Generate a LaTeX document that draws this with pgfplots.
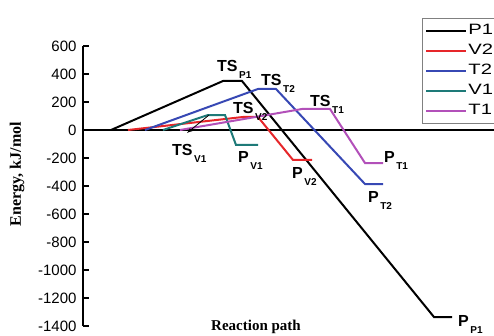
\documentclass[border=0pt]{standalone}
\usepackage{fontspec}
\setmainfont{Liberation Sans}
\newfontfamily\seriffont{Liberation Serif}
\newfontfamily\legfont[FakeStretch=1.35]{Liberation Sans}
\usepackage{pgfplots}
\pgfplotsset{compat=1.18}
\definecolor{cred}{RGB}{230,38,42}
\definecolor{cblue}{RGB}{55,72,180}
\definecolor{cteal}{RGB}{30,122,120}
\definecolor{cmag}{RGB}{178,80,185}
\newcommand{\lbl}[2]{{\fontsize{16bp}{16bp}\selectfont\textbf{#1}}\hspace{1.5bp}\raisebox{-7bp}{\fontsize{10bp}{10bp}\selectfont\textbf{#2}}}
\begin{document}
\begin{tikzpicture}
\path[use as bounding box] (-83bp,-10bp) rectangle (411bp,326bp);
\begin{axis}[
  scale only axis, width=411bp, height=280bp,
  xmin=83, xmax=494, ymin=-1400, ymax=600,
  axis y line*=left, axis x line=none,
  y axis line style={line width=2bp, black},
  ytick={-1400,-1200,...,600},
  tick align=inside, major tick length=6bp,
  ytick style={line width=2bp, black},
  scaled y ticks=false,
  /pgf/number format/assume math mode=true,
  /pgf/number format/1000 sep={},
  yticklabel style={font=\fontsize{15bp}{15bp}\selectfont, xshift=-3bp},
  clip=false,
  every axis plot/.append style={line width=2bp},
  legend cell align=left,
  legend image code/.code={\draw[#1, line width=2bp] (0bp,0bp) -- (40bp,0bp);},
  legend style={at={(0.8248,1.1)}, anchor=north west, draw=gray, line width=0.8bp,
    font=\legfont\fontsize{15bp}{15bp}\selectfont, inner xsep=3bp, inner ysep=5bp, row sep=4.5bp,
    nodes={inner sep=1bp, text height=10.5bp, text depth=3bp}},
]
\addplot[black, line width=2bp, forget plot] coordinates {(83,0) (494,0)};
\addplot[black] coordinates {(111,0) (223,350) (242,350) (434,-1336) (452,-1336)};
\addlegendentry{P1}
\addplot[cred] coordinates {(128,0) (243,93) (258,93) (293,-214) (312,-214)};
\addlegendentry{V2}
\addplot[cblue] coordinates {(145,0) (258,293) (276,293) (365,-386) (383,-386)};
\addlegendentry{T2}
\addplot[cteal] coordinates {(163,0) (208,107) (225,107) (236,-107) (258,-107)};
\addlegendentry{V1}
\addplot[cmag] coordinates {(180,0) (302,150) (330,150) (365,-236) (383,-236)};
\addlegendentry{T1}
\node[anchor=base west, inner sep=0pt] at (axis cs:217,421.4) {\lbl{TS}{P1}};
\node[anchor=base west, inner sep=0pt] at (axis cs:261,314.3) {\lbl{TS}{T2}};
\node[anchor=base west, inner sep=0pt] at (axis cs:233,121.4) {\lbl{TS}{V2}};
\node[anchor=base west, inner sep=0pt] at (axis cs:310,171.4) {\lbl{TS}{T1}};
\node[anchor=base west, inner sep=0pt] at (axis cs:172,-178.6) {\lbl{TS}{V1}};
\node[anchor=base west, inner sep=0pt] at (axis cs:238,-228.6) {\lbl{P}{V1}};
\node[anchor=base west, inner sep=0pt] at (axis cs:292,-342.9) {\lbl{P}{V2}};
\node[anchor=base west, inner sep=0pt] at (axis cs:368,-521.4) {\lbl{P}{T2}};
\node[anchor=base west, inner sep=0pt] at (axis cs:384,-235.7) {\lbl{P}{T1}};
\node[anchor=base west, inner sep=0pt] at (axis cs:458,-1407.1) {\lbl{P}{P1}};
\draw[-latex, line width=0.8bp] (axis cs:209,107) -- (axis cs:187,-21.4);
\node[rotate=90, font={\seriffont\bfseries\fontsize{16bp}{16bp}\selectfont}] at (axis cs:17,-314.3) {Energy, kJ/mol};
\node[font={\seriffont\bfseries\fontsize{15bp}{15bp}\selectfont}] at (axis cs:256,-1407) {Reaction path};
\end{axis}
\end{tikzpicture}
\end{document}
